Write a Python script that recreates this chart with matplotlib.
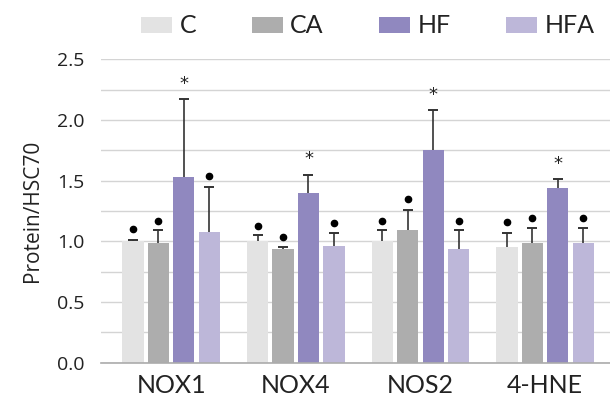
import matplotlib
matplotlib.use("Agg")
import matplotlib.pyplot as plt
import numpy as np

categories = ["NOX1", "NOX4", "NOS2", "4-HNE"]
groups = ["C", "CA", "HF", "HFA"]
colors = ["#E3E3E3", "#ADADAD", "#9088BF", "#BDB7D9"]

means = {
    "C":   [1.00, 1.00, 1.00, 0.95],
    "CA":  [0.99, 0.94, 1.09, 0.99],
    "HF":  [1.53, 1.40, 1.75, 1.44],
    "HFA": [1.08, 0.96, 0.94, 0.99],
}
err_tops = {
    "C":   [1.01, 1.05, 1.09, 1.07],
    "CA":  [1.09, 0.95, 1.26, 1.11],
    "HF":  [2.17, 1.55, 2.08, 1.51],
    "HFA": [1.45, 1.07, 1.09, 1.11],
}
mark_y = {
    "C":   [1.10, 1.13, 1.17, 1.16],
    "CA":  [1.17, 1.04, 1.35, 1.19],
    "HF":  [2.30, 1.68, 2.21, 1.64],
    "HFA": [1.54, 1.15, 1.17, 1.19],
}
mark_sym = {"C": "dot", "CA": "dot", "HF": "star", "HFA": "dot"}

fig = plt.figure(figsize=(6.1, 4.05), dpi=100)
ax = fig.add_axes([0.166, 0.1044, 0.834, 0.749])

x = np.arange(len(categories))
width = 0.17
pitch = 0.204
offsets = (np.arange(4) - 1.5) * pitch

for i, g in enumerate(groups):
    xs = x + offsets[i]
    m = np.array(means[g])
    t = np.array(err_tops[g])
    ax.bar(xs, m, width, color=colors[i], label=g, zorder=2)
    ax.vlines(xs, m, t, color="#333333", linewidth=1.2, zorder=3)
    ax.plot(xs, t, linestyle="none", marker="_", markersize=7, markeredgewidth=1.4,
            color="#333333", zorder=3)
    for xx, yy in zip(xs, mark_y[g]):
        if mark_sym[g] == "dot":
            ax.plot(xx, yy, "o", color="black", markersize=4.5, zorder=4)
        else:
            ax.text(xx, yy, "*", ha="center", va="center", fontsize=13,
                    color="#222222", zorder=4)

ax.set_ylim(0, 2.5)
ax.set_xlim(-0.56, 3.52)
ax.set_yticks(np.arange(0, 2.51, 0.5))
ax.set_yticks(np.arange(0, 2.51, 0.25), minor=True)
ax.set_yticklabels([f"{v:.1f}" for v in np.arange(0, 2.51, 0.5)],
                   fontsize=14, color="#222222", family="Open Sans")
ax.grid(axis="y", which="both", color="#D4D4D4", linewidth=1, zorder=0)
ax.tick_params(axis="y", which="both", length=0, pad=12)
ax.set_xticks(x)
ax.set_xticklabels(categories, fontsize=18, color="#222222", family="Lato")
ax.tick_params(axis="x", length=0, pad=8)
for s in ["top", "right", "left"]:
    ax.spines[s].set_visible(False)
ax.spines["bottom"].set_color("#ABABAB")
ax.spines["bottom"].set_linewidth(1.2)
ax.set_ylabel("Protein/HSC70", fontsize=15, color="#222222", family="Open Sans", labelpad=10)

handles, labels = ax.get_legend_handles_labels()
leg = fig.legend(handles, labels, loc="upper center", bbox_to_anchor=(0.603, 1.02), ncol=4,
                 frameon=False, prop={"family": "Lato", "size": 18},
                 handlelength=1.25, handleheight=0.6, handletextpad=0.3, columnspacing=2.2)
for txt in leg.get_texts():
    txt.set_color("#222222")

fig.savefig("out.png", dpi=100)
